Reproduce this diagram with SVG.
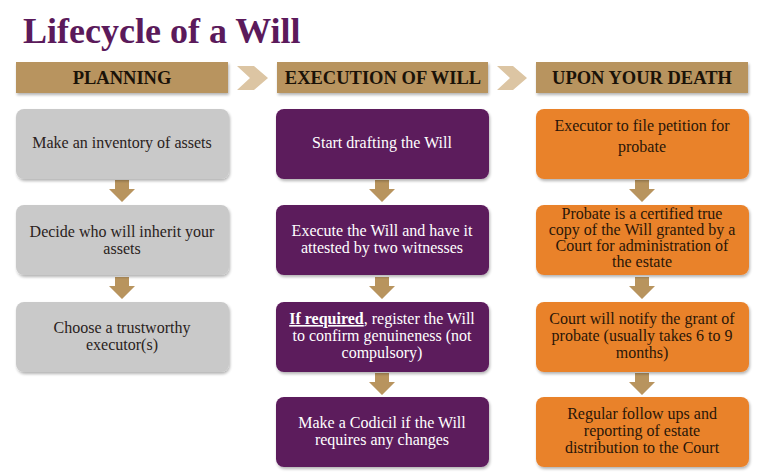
<svg xmlns="http://www.w3.org/2000/svg" width="758" height="476" viewBox="0 0 758 476">
<defs>
<filter id="sh" x="-5%" y="-5%" width="115%" height="125%">
<feGaussianBlur in="SourceAlpha" stdDeviation="1.5"/>
<feOffset dx="1" dy="2" result="b"/>
<feComponentTransfer><feFuncA type="linear" slope="0.3"/></feComponentTransfer>
<feMerge><feMergeNode/><feMergeNode in="SourceGraphic"/></feMerge>
</filter>
<path id="arr" d="M-7,0 H7 V9 H13 L0,22 L-13,9 H-7 Z"/>
</defs>
<style>
text{font-family:"Liberation Serif","DejaVu Serif","Times New Roman",serif;text-anchor:middle}
.title{font-size:36px;font-weight:bold;fill:#5b1a5b;text-anchor:start}
.hdr{fill:#b8945e;filter:url(#sh)}
.htxt{font-size:18.5px;font-weight:bold;fill:#1a1208}
.chev{fill:#dcc5a3}
.g{fill:#c9c9c9;filter:url(#sh)}
.p{fill:#5c1a5c;filter:url(#sh)}
.o{fill:#e9822c;filter:url(#sh)}
.tg{font-size:16px;fill:#2a2220}
.tp{font-size:16px;fill:#ffffff}
.to{font-size:16px;fill:#2a1608}
.a{fill:#b8945e}
</style>
<rect width="758" height="476" fill="#ffffff"/>
<text class="title" x="23" y="43">Lifecycle of  a Will</text>

<g id="header-planning"><rect class="hdr" x="16" y="62" width="212" height="31"/><text class="htxt" x="122" y="84">PLANNING</text></g>
<g id="chevron-1"><polygon class="chev" points="237,66 254,66 268,78 254,90 237,90 250,78"/></g>
<g id="header-execution"><rect class="hdr" x="277" y="62" width="211" height="31"/><text class="htxt" x="383" y="84">EXECUTION  OF WILL</text></g>
<g id="chevron-2"><polygon class="chev" points="497,66 513,66 527,78 513,90 497,90 510,78"/></g>
<g id="header-death"><rect class="hdr" x="536" y="62" width="212" height="31"/><text class="htxt" x="642" y="84">UPON YOUR DEATH</text></g>

<g id="connectors">
<use href="#arr" class="a" x="122" y="180"/>
<use href="#arr" class="a" x="122" y="277"/>
<use href="#arr" class="a" x="382" y="180"/>
<use href="#arr" class="a" x="382" y="277"/>
<use href="#arr" class="a" x="382" y="373"/>
<use href="#arr" class="a" x="642" y="180"/>
<use href="#arr" class="a" x="642" y="277"/>
<use href="#arr" class="a" x="642" y="373"/>
</g>

<g id="p1"><rect class="g" x="16" y="109" width="213" height="70" rx="8"/><text class="tg" x="122" y="148">Make an inventory of  assets</text></g>
<g id="p2"><rect class="g" x="16" y="205" width="213" height="70" rx="8"/><text class="tg" x="122" y="237">Decide who will inherit your</text><text class="tg" x="122" y="254">assets</text></g>
<g id="p3"><rect class="g" x="16" y="302" width="213" height="70" rx="8"/><text class="tg" x="122" y="333">Choose a trustworthy</text><text class="tg" x="122" y="350">executor(s)</text></g>

<g id="e1"><rect class="p" x="276" y="109" width="213" height="70" rx="8"/><text class="tp" x="382" y="148">Start drafting the Will</text></g>
<g id="e2"><rect class="p" x="276" y="205" width="213" height="70" rx="8"/><text class="tp" x="382" y="236">Execute the Will and have it</text><text class="tp" x="382" y="253">attested by two witnesses</text></g>
<g id="e3"><rect class="p" x="276" y="302" width="213" height="70" rx="8"/><text class="tp" x="382" y="324"><tspan font-weight="bold" text-decoration="underline">If required</tspan>, register the Will</text><text class="tp" x="382" y="341">to confirm genuineness (not</text><text class="tp" x="382" y="358">compulsory)</text></g>
<g id="e4"><rect class="p" x="276" y="397" width="213" height="70" rx="8"/><text class="tp" x="382" y="428">Make a Codicil if  the Will</text><text class="tp" x="382" y="445">requires any changes</text></g>

<g id="d1"><rect class="o" x="536" y="109" width="213" height="70" rx="8"/><text class="to" x="642" y="131">Executor to file petition for</text><text class="to" x="642" y="152">probate</text></g>
<g id="d2"><rect class="o" x="536" y="205" width="213" height="70" rx="8"/><text class="to" x="642" y="219">Probate is a certified true</text><text class="to" x="642" y="235">copy of  the Will granted by a</text><text class="to" x="642" y="251">Court for administration of</text><text class="to" x="642" y="267">the estate</text></g>
<g id="d3"><rect class="o" x="536" y="302" width="213" height="70" rx="8"/><text class="to" x="642" y="324">Court will notify the grant of</text><text class="to" x="642" y="341">probate (usually takes 6 to 9</text><text class="to" x="642" y="358">months)</text></g>
<g id="d4"><rect class="o" x="536" y="397" width="213" height="70" rx="8"/><text class="to" x="642" y="419">Regular follow ups and</text><text class="to" x="642" y="436">reporting of  estate</text><text class="to" x="642" y="453">distribution to the Court</text></g>
</svg>
